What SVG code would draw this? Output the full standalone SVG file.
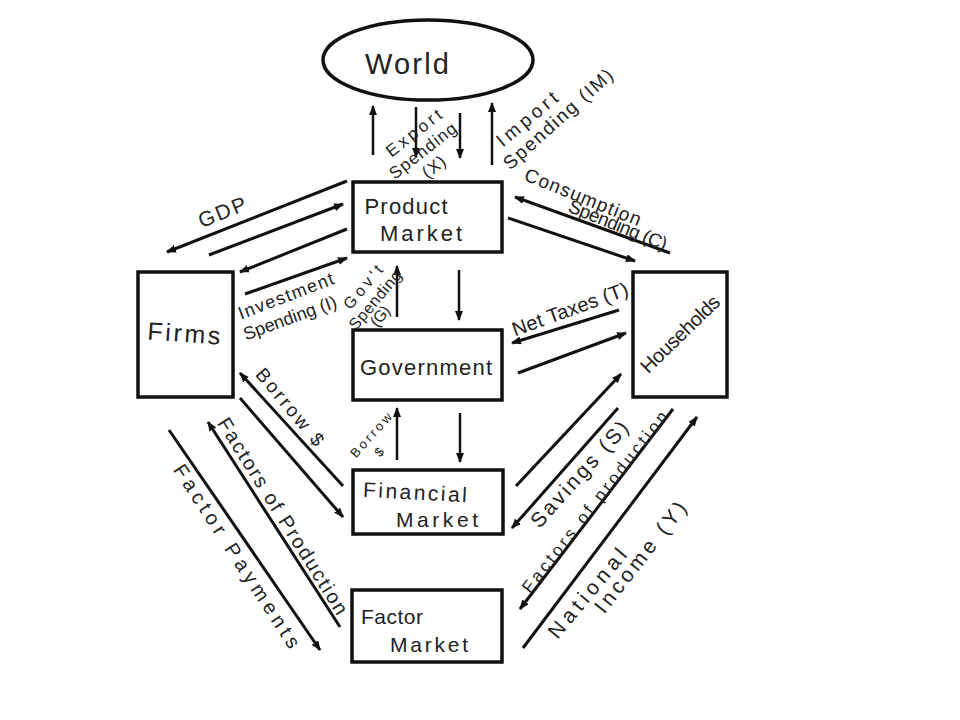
<svg xmlns="http://www.w3.org/2000/svg" width="960" height="720" viewBox="0 0 960 720">
<defs>
<marker id="ah" viewBox="0 0 10 8" refX="9" refY="4" markerWidth="10" markerHeight="8" markerUnits="userSpaceOnUse" orient="auto">
<path d="M0,0 L10,4 L0,8 z" fill="#111"/>
</marker>
</defs>
<style>
.box{fill:#fff;stroke:#111;stroke-width:3.5}
.t{font-family:"Liberation Sans",Arial,sans-serif;fill:#222;text-anchor:middle;dominant-baseline:central}
.c{stroke:#111;stroke-width:3;fill:none;marker-end:url(#ah)}
.v{stroke:#111;stroke-width:2.5;fill:none;marker-end:url(#ah)}
</style>
<rect width="960" height="720" fill="#fff"/>

<g id="world">
<ellipse class="box" cx="428" cy="60" rx="105" ry="40"/>
<text class="t" x="407" y="64" font-size="29" textLength="84" lengthAdjust="spacing">World</text>
</g>
<g id="product-market">
<rect class="box" x="353" y="182" width="149" height="70"/>
<text class="t" x="406" y="206" font-size="22" textLength="83" lengthAdjust="spacing">Product</text>
<text class="t" x="421" y="233" font-size="22" textLength="82" lengthAdjust="spacing">Market</text>
</g>
<g id="firms">
<rect class="box" x="138" y="272" width="95" height="125"/>
<text class="t" font-size="25" textLength="73" lengthAdjust="spacing" transform="translate(184 333) rotate(4)">Firms</text>
</g>
<g id="government">
<rect class="box" x="353" y="330" width="149" height="70"/>
<text class="t" x="426" y="367" font-size="22" textLength="132" lengthAdjust="spacing">Government</text>
</g>
<g id="households">
<rect class="box" x="633" y="272" width="94" height="125"/>
<text class="t" font-size="20" textLength="102" lengthAdjust="spacing" transform="translate(680 334) rotate(-44)">Households</text>
</g>
<g id="financial-market">
<rect class="box" x="353" y="470" width="150" height="64"/>
<text class="t" font-size="21" textLength="104" lengthAdjust="spacing" transform="translate(415 492) rotate(3)">Financial</text>
<text class="t" x="437" y="519" font-size="21" textLength="82" lengthAdjust="spacing">Market</text>
</g>
<g id="factor-market">
<rect class="box" x="352" y="590" width="150" height="72"/>
<text class="t" x="392" y="616" font-size="21" textLength="62" lengthAdjust="spacing">Factor</text>
<text class="t" x="429" y="644" font-size="21" textLength="78" lengthAdjust="spacing">Market</text>
</g>

<g id="connectors">
<line class="v" x1="373" y1="155" x2="373" y2="106"/>
<line class="v" x1="416" y1="107" x2="416" y2="157"/>
<line class="v" x1="460" y1="113" x2="460" y2="158"/>
<line class="v" x1="492" y1="165" x2="492" y2="103"/>
<line class="c" x1="347" y1="181" x2="167" y2="252"/>
<line class="c" x1="209" y1="255" x2="343" y2="204"/>
<line class="c" x1="347" y1="229" x2="240" y2="272"/>
<line class="c" x1="245" y1="294" x2="347" y2="258"/>
<line class="v" x1="397" y1="317" x2="397" y2="266"/>
<line class="v" x1="459" y1="270" x2="459" y2="320"/>
<line class="c" x1="670" y1="253" x2="515" y2="197"/>
<line class="c" x1="508" y1="218" x2="635" y2="261"/>
<line class="c" x1="619" y1="310" x2="512" y2="343"/>
<line class="c" x1="518" y1="373" x2="626" y2="333"/>
<line class="c" x1="343" y1="486" x2="240" y2="373"/>
<line class="c" x1="240" y1="398" x2="343" y2="517"/>
<line class="c" x1="340" y1="627" x2="208" y2="422"/>
<line class="c" x1="169" y1="430" x2="320" y2="650"/>
<line class="v" x1="397" y1="460" x2="397" y2="408"/>
<line class="v" x1="460" y1="413" x2="460" y2="462"/>
<line class="c" x1="516" y1="486" x2="621" y2="374"/>
<line class="c" x1="618" y1="408" x2="512" y2="528"/>
<line class="c" x1="673" y1="409" x2="520" y2="609"/>
<line class="c" x1="523" y1="648" x2="697" y2="417"/>
</g>

<g id="labels">
<text class="t" font-size="17" textLength="66" lengthAdjust="spacing" transform="translate(414 133) rotate(-38)">Export</text>
<text class="t" font-size="17" textLength="80" lengthAdjust="spacing" transform="translate(423 151) rotate(-38)">Spending</text>
<text class="t" font-size="17" textLength="25" lengthAdjust="spacing" transform="translate(434 167) rotate(-38)">(X)</text>
<text class="t" font-size="19" textLength="74" lengthAdjust="spacing" transform="translate(527 119) rotate(-40)">Import</text>
<text class="t" font-size="19" textLength="140" lengthAdjust="spacing" transform="translate(558 119) rotate(-42)">Spending (IM)</text>
<text class="t" font-size="21" textLength="50" lengthAdjust="spacing" transform="translate(222 212) rotate(-22)">GDP</text>
<text class="t" font-size="18" textLength="101" lengthAdjust="spacing" transform="translate(286 296) rotate(-21)">Investment</text>
<text class="t" font-size="18" textLength="98" lengthAdjust="spacing" transform="translate(290 318) rotate(-20)">Spending (I)</text>
<text class="t" font-size="16" textLength="52" lengthAdjust="spacing" transform="translate(363 287) rotate(-50)">Gov't</text>
<text class="t" font-size="16" textLength="72" lengthAdjust="spacing" transform="translate(375 300) rotate(-50)">Spending</text>
<text class="t" font-size="16" textLength="22" lengthAdjust="spacing" transform="translate(380 316) rotate(-50)">(G)</text>
<text class="t" font-size="19" textLength="124" lengthAdjust="spacing" transform="translate(583 197) rotate(22)">Consumption</text>
<text class="t" font-size="19" textLength="105" lengthAdjust="spacing" transform="translate(618 225) rotate(22)">Spending (C)</text>
<text class="t" font-size="20" textLength="122" lengthAdjust="spacing" transform="translate(570 309) rotate(-20)">Net Taxes (T)</text>
<text class="t" font-size="19" textLength="95" lengthAdjust="spacing" transform="translate(290 407) rotate(50)">Borrow $</text>
<text class="t" font-size="13" textLength="55" lengthAdjust="spacing" transform="translate(371 435) rotate(-48)">Borrow</text>
<text class="t" font-size="13" transform="translate(379 452) rotate(-48)">$</text>
<text class="t" font-size="20" textLength="228" lengthAdjust="spacing" transform="translate(283 516) rotate(58)">Factors of Production</text>
<text class="t" font-size="20" textLength="215" lengthAdjust="spacing" transform="translate(237 556) rotate(57)">Factor Payments</text>
<text class="t" font-size="21" textLength="135" lengthAdjust="spacing" transform="translate(579 474) rotate(-48)">Savings (S)</text>
<text class="t" font-size="17" textLength="225" lengthAdjust="spacing" transform="translate(595 502) rotate(-52)">Factors of production</text>
<text class="t" font-size="21" textLength="110" lengthAdjust="spacing" transform="translate(587 593) rotate(-50)">National</text>
<text class="t" font-size="21" textLength="135" lengthAdjust="spacing" transform="translate(640 557) rotate(-52)">Income (Y)</text>
</g>
</svg>
